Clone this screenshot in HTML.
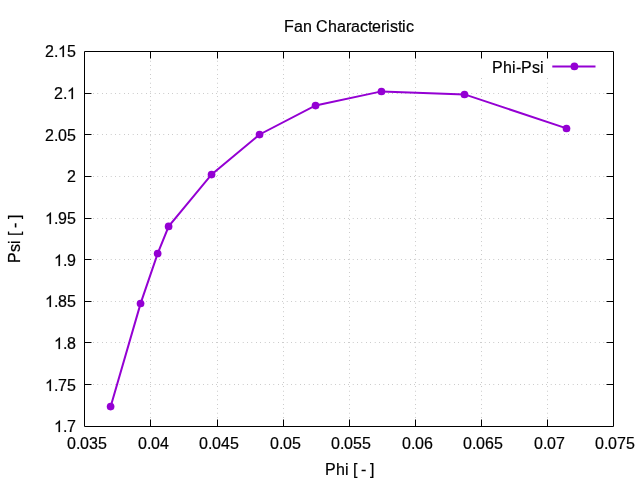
<!DOCTYPE html><html><head><meta charset="utf-8"><title>Fan Characteristic</title>
<style>html,body{margin:0;padding:0;background:#fff;width:640px;height:480px;overflow:hidden}svg{display:block;position:absolute;left:0;top:0;will-change:transform}text{font-family:"Liberation Sans",sans-serif;font-size:16px;fill:#000;stroke:#000;stroke-width:0.2px;white-space:pre}.g{fill:#000;stroke:#000;stroke-width:25.6}</style></head><body>
<svg width="640" height="480" viewBox="0 0 640 480">
<rect width="640" height="480" fill="#fff"/>
<g stroke="#000" stroke-width="1" stroke-opacity="0.5" stroke-dasharray="0.4 4" fill="none">
<path d="M150.5 426.5V51.5"/>
<path d="M217.5 426.5V51.5"/>
<path d="M283.5 426.5V51.5"/>
<path d="M349.5 426.5V51.5"/>
<path d="M415.5 426.5V51.5"/>
<path d="M481.5 426.5V51.5"/>
<path d="M547.5 426.5V51.5"/>
<path d="M84.5 384.5H613.5"/>
<path d="M84.5 342.5H613.5"/>
<path d="M84.5 301.5H613.5"/>
<path d="M84.5 259.5H613.5"/>
<path d="M84.5 218.5H613.5"/>
<path d="M84.5 176.5H613.5"/>
<path d="M84.5 134.5H613.5"/>
<path d="M84.5 93.5H613.5"/>
</g>
<rect x="478" y="55" width="124" height="21.5" fill="#fff"/>
<g stroke="#000" stroke-width="1" fill="none">
<path d="M150.5 426.5v-7.0M150.5 51.5v7.0M217.5 426.5v-7.0M217.5 51.5v7.0M283.5 426.5v-7.0M283.5 51.5v7.0M349.5 426.5v-7.0M349.5 51.5v7.0M415.5 426.5v-7.0M415.5 51.5v7.0M481.5 426.5v-7.0M481.5 51.5v7.0M547.5 426.5v-7.0M547.5 51.5v7.0M84.5 384.5h7.0M613.5 384.5h-7.0M84.5 342.5h7.0M613.5 342.5h-7.0M84.5 301.5h7.0M613.5 301.5h-7.0M84.5 259.5h7.0M613.5 259.5h-7.0M84.5 218.5h7.0M613.5 218.5h-7.0M84.5 176.5h7.0M613.5 176.5h-7.0M84.5 134.5h7.0M613.5 134.5h-7.0M84.5 93.5h7.0M613.5 93.5h-7.0"/>
<path d="M84.5 51.5H613.5V426.5H84.5Z" stroke-linejoin="miter"/>
</g>
<text x="67 76 80 89 98" y="449">0.035</text>
<text x="138 147 151 160" y="449">0.04</text>
<text x="199 208 212 221 230" y="449">0.045</text>
<text x="270 279 283 292" y="449">0.05</text>
<text x="331 340 344 353 362" y="449">0.055</text>
<text x="402 411 415 424" y="449">0.06</text>
<text x="463 472 476 485 494" y="449">0.065</text>
<text x="534 543 547 556" y="449">0.07</text>
<text x="595 604 608 617 626" y="449">0.075</text>
<text x="63 67" y="432">.7</text><path class="g" transform="translate(54,432) scale(0.0078125,-0.0078125)" d="M763 0L583 0L583 1147Q518 1085 412.5 1023Q307 961 223 930L223 1104Q374 1175 487 1276Q600 1377 647 1472L763 1472Z"/>
<text x="54 58 67" y="391">.75</text><path class="g" transform="translate(45,391) scale(0.0078125,-0.0078125)" d="M763 0L583 0L583 1147Q518 1085 412.5 1023Q307 961 223 930L223 1104Q374 1175 487 1276Q600 1377 647 1472L763 1472Z"/>
<text x="63 67" y="349">.8</text><path class="g" transform="translate(54,349) scale(0.0078125,-0.0078125)" d="M763 0L583 0L583 1147Q518 1085 412.5 1023Q307 961 223 930L223 1104Q374 1175 487 1276Q600 1377 647 1472L763 1472Z"/>
<text x="54 58 67" y="307">.85</text><path class="g" transform="translate(45,307) scale(0.0078125,-0.0078125)" d="M763 0L583 0L583 1147Q518 1085 412.5 1023Q307 961 223 930L223 1104Q374 1175 487 1276Q600 1377 647 1472L763 1472Z"/>
<text x="63 67" y="266">.9</text><path class="g" transform="translate(54,266) scale(0.0078125,-0.0078125)" d="M763 0L583 0L583 1147Q518 1085 412.5 1023Q307 961 223 930L223 1104Q374 1175 487 1276Q600 1377 647 1472L763 1472Z"/>
<text x="54 58 67" y="224">.95</text><path class="g" transform="translate(45,224) scale(0.0078125,-0.0078125)" d="M763 0L583 0L583 1147Q518 1085 412.5 1023Q307 961 223 930L223 1104Q374 1175 487 1276Q600 1377 647 1472L763 1472Z"/>
<text x="67" y="182">2</text>
<text x="45 54 58 67" y="141">2.05</text>
<text x="54 63" y="99">2.</text><path class="g" transform="translate(67,99) scale(0.0078125,-0.0078125)" d="M763 0L583 0L583 1147Q518 1085 412.5 1023Q307 961 223 930L223 1104Q374 1175 487 1276Q600 1377 647 1472L763 1472Z"/>
<text x="45 54 67" y="57">2.5</text><path class="g" transform="translate(58,57) scale(0.0078125,-0.0078125)" d="M763 0L583 0L583 1147Q518 1085 412.5 1023Q307 961 223 930L223 1104Q374 1175 487 1276Q600 1377 647 1472L763 1472Z"/>
<text x="284 294 303 316 328 337 346 351 360 368 372 381 386 390 398 402 406" y="32">FanCharacteristic</text>
<text x="325 336 345 353 361 370" y="475">Phi[-]</text>
<g transform="translate(20,263) rotate(-90)"><text x="0 11 19 27 35 44" y="0">Psi[-]</text></g>
<text x="492 503 512 516 521 532 540" y="73">Phi-Psi</text>
<g stroke="#9400d3" stroke-width="2" fill="none" stroke-linejoin="miter" stroke-linecap="butt">
<path d="M110.68 406.48L140.63 303.38L157.73 253.38L168.68 226.33L211.63 174.48L259.63 134.48L315.63 105.48L381.53 91.38L464.58 94.38L566.58 128.38"/>
<path d="M552.3 66.5H595.5"/>
</g>
<g fill="#9400d3">
<circle cx="110.6" cy="406.6" r="3.85"/>
<circle cx="140.55" cy="303.5" r="3.85"/>
<circle cx="157.65" cy="253.5" r="3.85"/>
<circle cx="168.6" cy="226.45" r="3.85"/>
<circle cx="211.55" cy="174.6" r="3.85"/>
<circle cx="259.55" cy="134.6" r="3.85"/>
<circle cx="315.55" cy="105.6" r="3.85"/>
<circle cx="381.45" cy="91.5" r="3.85"/>
<circle cx="464.5" cy="94.5" r="3.85"/>
<circle cx="566.5" cy="128.5" r="3.85"/>
<circle cx="574.4" cy="66.4" r="3.85"/>
</g>
</svg></body></html>
